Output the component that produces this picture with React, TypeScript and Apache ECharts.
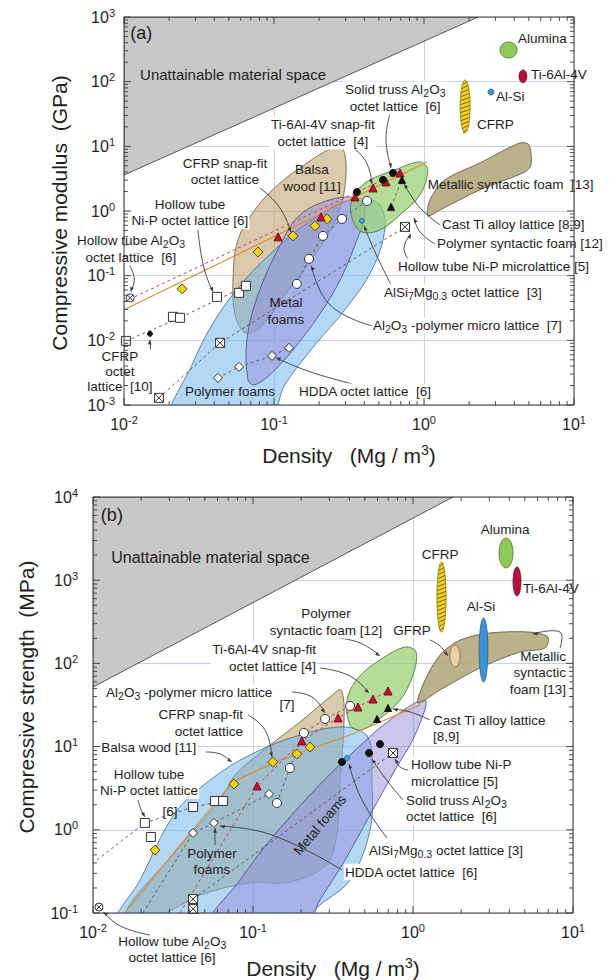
import React, { useEffect, useRef } from 'react';
import * as echarts from 'echarts';

const FONT = '"Liberation Sans", Arial, Helvetica, sans-serif';

// ---------- axis ranges ----------
const aXRange = [0.01, 10];
const aYRange = [0.001, 1000];
const bXRange = [0.01, 10];
const bYRange = [0.1, 10000];

// ---------- Panel (a): compressive modulus (GPa) ----------
const aUnattainable = [[0.01, 3.6], [2.3, 1000], [0.01, 1000]];
const aBalsa = [[0.284, 9.8], [0.302, 3.61], [0.267, 0.871], [0.188, 0.21], [0.118, 0.0505], [0.0807, 0.0156], [0.0641, 0.0131], [0.055, 0.0248], [0.0533, 0.0861], [0.0575, 0.357], [0.0771, 1.16], [0.11, 2.72], [0.166, 5.53], [0.236, 9.12]];
const aPolymerFoams = [[0.0209, 0.00059], [0.0284, 0.00418], [0.0404, 0.0207], [0.0641, 0.0861], [0.11, 0.299], [0.188, 0.782], [0.321, 1.49], [0.494, 1.33], [0.549, 0.548], [0.45, 0.123], [0.297, 0.0296], [0.188, 0.00853], [0.118, 0.00205], [0.0912, 0.00059]];
const aMetalFoams = [[0.0671, 0.00245], [0.066, 0.0102], [0.0782, 0.0505], [0.11, 0.299], [0.149, 0.871], [0.236, 1.49], [0.347, 1.59], [0.404, 1.04], [0.347, 0.299], [0.255, 0.0604], [0.161, 0.0122], [0.1016, 0.0035], [0.0747, 0.00205]];
const aPolymerSyntactic = [[0.331, 1.49], [0.404, 2.72], [0.641, 4.32], [0.94, 5.74], [1.06, 4.32], [0.94, 1.77], [0.692, 0.871], [0.509, 0.51], [0.386, 0.475], [0.331, 0.782]];
const aMetallicSyntactic = [[1.06, 0.84], [1.096, 1.49], [1.38, 3.03], [2.36, 5.53], [4.37, 11.3], [5.01, 10.5], [5.17, 5.17], [4.71, 4.02], [2.36, 2.12], [1.279, 1.04]];

// ellipses: [xmin, ymin, xmax, ymax]
const aBulkNames = ['Alumina', 'Ti-6Al-4V', 'Al-Si', 'CFRP'];
const aBulk = [[3.21, 232, 4.17, 411], [4.3, 96, 4.85, 152], [2.67, 62, 2.93, 77], [1.74, 16.1, 2.03, 106]];

const aCfrpSnap = [[0.0244, 0.0625], [0.0782, 0.233], [0.134, 0.412], [0.1876, 0.589], [0.2256, 0.755]];
const aTiSnap = [[0.1064, 0.398], [0.2057, 0.811], [0.3467, 1.65], [0.457, 2.27], [0.558, 2.82], [0.692, 3.88]];
const aSolidTruss = [[0.357, 1.97], [0.533, 3.03], [0.621, 3.88]];
const aCastTi = [[0.603, 1.16], [0.713, 3.03]];
const aAl2O3Polymer = [[0.142, 0.0746], [0.171, 0.182], [0.212, 0.412], [0.284, 0.755], [0.417, 1.43]];
const aNiPOctet = [[0.0103, 0.0098], [0.0212, 0.0231], [0.0236, 0.0223], [0.0417, 0.047], [0.0585, 0.0542], [0.065, 0.0695]];
const aNiPMicro = [[0.0171, 0.00129], [0.0437, 0.00914], [0.747, 0.568]];
const aAl2O3Octet = [[0.011, 0.0454]];
const aHdda = [[0.0423, 0.00263], [0.0585, 0.00389], [0.097, 0.00575], [0.126, 0.00766]];
const aCfrpOctet = [[0.0149, 0.0126]];
const aAlSiMg = [[0.386, 0.703]];

const aOrangeTrend = [[0.01, 0.0296], [1.047, 5.74]];
const aRedTrend = [[0.01, 0.0394], [0.692, 4.02]];

const aLabels = [
  { t: '(a)', x: 0.011, y: 566, al: 'left', fs: 18 },
  { t: 'Unattainable material space', x: 0.0128, y: 128, al: 'left', fs: 15 },
  { t: 'Alumina', x: 4.23, y: 473, al: 'left' },
  { t: 'Ti-6Al-4V', x: 5.17, y: 131, al: 'left' },
  { t: 'Al-Si', x: 3.02, y: 58, al: 'left' },
  { t: 'CFRP', x: 2.26, y: 21.4, al: 'left' },
  { t: 'Solid truss Al{s|2}O{s|3}\noctet lattice  [6]', x: 0.641, y: 56, al: 'center', bg: true },
  { t: 'Ti-6Al-4V snap-fit\noctet lattice  [4]', x: 0.212, y: 16.1, al: 'center', bg: true },
  { t: 'CFRP snap-fit\noctet lattice', x: 0.0471, y: 4.09, al: 'center', bg: true },
  { t: 'Balsa\nwood [11]', x: 0.179, y: 3.25, al: 'center' },
  { t: 'Hollow tube\nNi-P octet lattice [6]', x: 0.0275, y: 0.95, al: 'center', bg: true },
  { t: 'Hollow tube Al{s|2}O{s|3}\noctet lattice  [6]', x: 0.0111, y: 0.26, al: 'center', bg: true },
  { t: 'Metallic syntactic foam  [13]', x: 1.06, y: 2.53, al: 'left' },
  { t: 'Cast Ti alloy lattice [8,9]', x: 1.318, y: 0.61, al: 'left' },
  { t: 'Polymer syntactic foam [12]', x: 1.221, y: 0.31, al: 'left' },
  { t: 'Hollow tube Ni-P microlattice [5]', x: 0.661, y: 0.137, al: 'left', bg: true },
  { t: 'AlSi{s|7}Mg{s|0.3} octet lattice  [3]', x: 0.533, y: 0.0542, al: 'left', bg: true },
  { t: 'Al{s|2}O{s|3} -polymer micro lattice  [7]', x: 0.45, y: 0.0168, al: 'left', bg: true },
  { t: 'Metal\nfoams', x: 0.12, y: 0.0286, al: 'center' },
  { t: 'Polymer foams', x: 0.0509, y: 0.0016, al: 'center' },
  { t: 'HDDA octet lattice  [6]', x: 0.1445, y: 0.0016, al: 'left', bg: true },
  { t: 'CFRP\noctet\nlattice  [10]', x: 0.0094, y: 0.00326, al: 'center', lh: 15, bg: true },
];

const aLeaders = [
  [[0.0106, 0.16], [0.0117, 0.0925], [0.0111, 0.0562]],
  [[0.0311, 0.51], [0.0341, 0.132], [0.0392, 0.0562]],
  [[0.0724, 2.72], [0.106, 1.24], [0.13, 0.475]],
  [[0.297, 11.7], [0.404, 6.17], [0.45, 2.62]],
  [[0.593, 31.6], [0.558, 12.6], [0.603, 4.64]],
  [[1.279, 0.61], [0.94, 1.12], [0.736, 2.62]],
  [[1.184, 0.31], [0.94, 0.475], [0.858, 0.782]],
  [[0.807, 0.163], [0.736, 0.269], [0.819, 0.443]],
  [[0.612, 0.0671], [0.471, 0.233], [0.398, 0.589]],
  [[0.45, 0.0168], [0.236, 0.0354], [0.177, 0.142]],
  [[0.331, 0.00213], [0.174, 0.00326], [0.103, 0.00537]],
  [[0.0128, 0.00418], [0.0147, 0.00575], [0.0149, 0.0102]],
];

// ---------- Panel (b): compressive strength (MPa) ----------
const bUnattainable = [[0.01, 52], [1.78, 10000], [0.01, 10000]];
const bBalsa = [[0.0158, 0.0946], [0.0326, 0.541], [0.0622, 2.28], [0.0772, 4.56], [0.1106, 8.38], [0.197, 19.8], [0.303, 39.4], [0.355, 47.9], [0.371, 20.9], [0.35, 3.97], [0.33, 0.753], [0.282, 0.367], [0.17, 0.236], [0.0958, 0.23], [0.0467, 0.164], [0.0262, 0.0946]];
const bPolymerFoams = [[0.0143, 0.0718], [0.0197, 0.249], [0.0326, 1.59], [0.0539, 3.97], [0.0958, 7.93], [0.197, 13.8], [0.376, 17.2], [0.523, 13.0], [0.554, 3.97], [0.539, 0.994], [0.404, 0.249], [0.262, 0.125], [0.183, 0.0718]];
const bMetalFoams = [[1.19, 36.3], [1.03, 13.8], [0.772, 5.24], [0.539, 1.51], [0.376, 0.434], [0.262, 0.143], [0.211, 0.0718], [0.0539, 0.0718], [0.083, 0.249], [0.128, 0.753], [0.227, 2.62], [0.404, 7.93], [0.718, 20.9]];
const bPolymerSyntactic = [[0.404, 18.2], [0.387, 36.3], [0.453, 66.8], [0.622, 110], [0.891, 157], [1.045, 137], [1.0, 72.6], [0.83, 36.3], [0.604, 20.9], [0.467, 15.8]];
const bMetallicSyntactic = [[1.075, 33.4], [1.19, 63.1], [1.475, 126], [1.97, 191], [3.03, 232], [5.38, 238], [6.98, 207], [6.68, 153], [4.66, 137], [2.62, 88.1], [1.475, 47.9]];

const bBulkNames = ['Alumina', 'Ti-6Al-4V', 'CFRP', 'GFRP', 'Al-Si'];
const bBulk = [[3.45, 1403, 4.22, 3213], [4.22, 646, 4.73, 1442], [1.41, 238, 1.61, 1655], [1.7, 90.6, 1.97, 166], [2.59, 59.7, 2.94, 352]];

const bCfrpSnap = [[0.0244, 0.571], [0.076, 3.55], [0.133, 6.53], [0.188, 8.15], [0.227, 9.88]];
const bTiSnap = [[0.106, 3.36], [0.202, 11.7], [0.34, 22.1], [0.453, 29.9], [0.562, 37.3], [0.698, 46.6]];
const bSolidTruss = [[0.36, 6.53], [0.531, 8.38], [0.622, 10.7]];
const bCastTi = [[0.596, 21.5], [0.698, 29.1]];
const bAl2O3Polymer = [[0.141, 2.1], [0.17, 5.53], [0.208, 14.6], [0.282, 21.5], [0.404, 30.8]];
const bNiPOctet = [[0.0211, 1.21], [0.023, 0.82], [0.0422, 1.88], [0.0579, 2.22], [0.065, 2.22]];
const bNiPMicro = [[0.0422, 0.147], [0.0422, 0.112], [0.75, 8.38]];
const bAl2O3Octet = [[0.0109, 0.118]];
const bHdda = [[0.0422, 0.916], [0.057, 1.21], [0.126, 2.69]];
const bAlSiMg = [[0.387, 7.3]];

const bOrangeTrend = [[0.0158, 0.1], [0.035, 0.656], [0.075, 3.76], [0.1475, 6.9], [0.404, 13.8], [1.106, 31.6]];
const bRedTrendStart = [[0.035, 0.1]];
const bSquaresTrendStart = [[0.0106, 0.434]];
const bHddaTrendStart = [[0.0205, 0.1]];

const bLabels = [
  { t: '(b)', x: 0.0112, y: 6080, al: 'left', fs: 18 },
  { t: 'Unattainable material space', x: 0.013, y: 1849, al: 'left', fs: 16 },
  { t: 'Alumina', x: 3.76, y: 4121, al: 'center' },
  { t: 'Ti-6Al-4V', x: 4.87, y: 805, al: 'left' },
  { t: 'CFRP', x: 1.475, y: 2010, al: 'center' },
  { t: 'Al-Si', x: 2.66, y: 477, al: 'center' },
  { t: 'GFRP', x: 0.986, y: 252, al: 'center', bg: true },
  { t: 'Polymer\nsyntactic foam [12]', x: 0.286, y: 315, al: 'center', bg: true },
  { t: 'Ti-6Al-4V snap-fit\noctet lattice [4]', x: 0.251, y: 116, al: 'right', bg: true },
  { t: 'Al{s|2}O{s|3} -polymer micro lattice', x: 0.0119, y: 45.3, al: 'left', bg: true },
  { t: '[7]', x: 0.163, y: 32.5, al: 'center' },
  { t: 'CFRP snap-fit\noctet lattice', x: 0.0879, y: 19.2, al: 'right', bg: true },
  { t: 'Balsa wood [11]', x: 0.0111, y: 9.62, al: 'left', bg: true },
  { t: 'Hollow tube\nNi-P octet lattice', x: 0.0224, y: 3.71, al: 'center', bg: true },
  { t: '[6]', x: 0.0303, y: 1.64, al: 'center' },
  { t: 'Metallic\nsyntactic\nfoam [13]', x: 9.04, y: 76.7, al: 'right' },
  { t: 'Cast Ti alloy lattice\n[8,9]', x: 1.315, y: 16.5, al: 'left', bg: true },
  { t: 'Hollow tube Ni-P\nmicrolattice [5]', x: 0.958, y: 4.82, al: 'left', bg: true },
  { t: 'Solid truss Al{s|2}O{s|3}\noctet lattice  [6]', x: 0.891, y: 1.8, al: 'left', bg: true },
  { t: 'AlSi{s|7}Mg{s|0.3} octet lattice [3]', x: 0.523, y: 0.571, al: 'left', bg: true },
  { t: 'HDDA octet lattice  [6]', x: 0.371, y: 0.311, al: 'left', bg: true },
  { t: 'Metal foams', x: 0.262, y: 1.14, al: 'center', rot: 50 },
  { t: 'Polymer\nfoams', x: 0.0554, y: 0.416, al: 'center' },
  { t: 'Hollow tube Al{s|2}O{s|3}\noctet lattice [6]', x: 0.0312, y: 0.0364, al: 'center' },
];

const bLeaders = [
  [[0.316, 207], [0.467, 176], [0.622, 123]],
  [[1.276, 191], [1.475, 162], [1.655, 123]],
  [[0.262, 88.1], [0.404, 70.6], [0.531, 44]],
  [[0.175, 45.3], [0.234, 39.4], [0.282, 25.4]],
  [[0.093, 24], [0.119, 15.8], [0.1315, 7.5]],
  [[0.0508, 8.61], [0.0622, 8.15], [0.0739, 6.53]],
  [[0.0191, 2.28], [0.02, 1.73], [0.0211, 1.43]],
  [[8.3, 153], [8.3, 238], [5.62, 226]],
  [[1.276, 20.9], [0.958, 26.1], [0.75, 28.3]],
  [[0.931, 5.24], [0.83, 5.69], [0.772, 7.1]],
  [[0.866, 2.28], [0.668, 4.2], [0.554, 7.1]],
  [[0.688, 0.797], [0.48, 2.28], [0.398, 6.18]],
  [[0.36, 0.329], [0.1315, 0.866], [0.0622, 1.11]],
  [[0.0227, 0.0544], [0.0148, 0.0698], [0.0116, 0.103]],
  [[0.0579, 0.656], [0.0579, 1.05]],
];

// ---------- styles ----------
const regionStyles = {
  unatt: { fill: '#c8c8c8', stroke: '#333', smooth: 0 },
  balsa: { fill: 'rgba(196,168,118,0.62)', stroke: '#6b5a3a', smooth: 0.35 },
  polyFoam: { fill: 'rgba(110,180,238,0.52)', stroke: '#3e6a8f', smooth: 0.35 },
  metalFoam: { fill: 'rgba(150,140,215,0.5)', stroke: '#4a4780', smooth: 0.35 },
  polySyn: { fill: 'rgba(150,205,110,0.7)', stroke: '#4b6b3a', smooth: 0.35 },
  metalSyn: { fill: 'rgba(178,166,122,0.88)', stroke: '#5a5138', smooth: 0.3 },
};
const bulkColors = {
  Alumina: { fill: '#8fc95a', stroke: '#4d6d30', hatch: false },
  'Ti-6Al-4V': { fill: '#b3123c', stroke: '#6d0b25', hatch: false },
  'Al-Si': { fill: '#3f93d3', stroke: '#2a5f8a', hatch: false },
  CFRP: { fill: '#f4d21f', stroke: '#8a7a10', hatch: true },
  GFRP: { fill: '#ead1a4', stroke: '#7a6540', hatch: false },
};

const BOXX = 'path://M1,1H19V19H1Z M1,1L19,19 M19,1L1,19';
const CIRX = 'path://M20,10A10,10,0,1,1,0,10A10,10,0,1,1,20,10Z M3,3L17,17 M17,3L3,17';

function regionSeries(idx: number, regions: any[]) {
  return {
    type: 'custom', xAxisIndex: idx, yAxisIndex: idx, clip: true, silent: true, z: 2,
    data: regions.map((r) => [r.pts[0][0], r.pts[0][1]]),
    renderItem: (params: any, api: any) => {
      const r = regions[params.dataIndex];
      const points = r.pts.map((p: number[]) => api.coord(p));
      return { type: 'polygon', shape: { points, smooth: r.style.smooth }, style: { fill: r.style.fill, stroke: r.style.stroke, lineWidth: 0.8 } };
    },
  };
}

function bulkSeries(idx: number, names: string[], boxes: number[][]) {
  return {
    type: 'custom', xAxisIndex: idx, yAxisIndex: idx, clip: false, silent: true, z: 4,
    data: boxes,
    encode: { x: [0, 2], y: [1, 3] },
    renderItem: (params: any, api: any) => {
      const b = boxes[params.dataIndex];
      const st = (bulkColors as any)[names[params.dataIndex]];
      const p1 = api.coord([b[0], b[3]]);
      const p2 = api.coord([b[2], b[1]]);
      const cx = (p1[0] + p2[0]) / 2, cy = (p1[1] + p2[1]) / 2;
      const rx = Math.abs(p2[0] - p1[0]) / 2, ry = Math.abs(p2[1] - p1[1]) / 2;
      const children: any[] = [{ type: 'ellipse', shape: { cx, cy, rx, ry }, style: { fill: st.fill, stroke: st.stroke, lineWidth: 0.8 } }];
      if (st.hatch) {
        for (let yy = cy - ry + 3; yy < cy + ry - 1; yy += 4) {
          const d = (yy - cy) / ry;
          const w = rx * Math.sqrt(Math.max(0, 1 - d * d)) * 0.95;
          if (w < 0.8) continue;
          children.push({ type: 'line', shape: { x1: cx - w, y1: yy + 1.6, x2: cx + w, y2: yy - 1.6 }, style: { stroke: '#3a3320', lineWidth: 0.7 } });
        }
      }
      return { type: 'group', children };
    },
  };
}

function scatter(idx: number, data: number[][], symbol: string, size: number, color: string, border: string, z = 10) {
  return {
    type: 'scatter', xAxisIndex: idx, yAxisIndex: idx, data, symbol, symbolSize: size, silent: true, z,
    clip: false,
    itemStyle: { color, borderColor: border, borderWidth: 1, opacity: 1 },
  };
}

function line(idx: number, data: number[][], color: string, type: any, width = 1, z = 6) {
  return {
    type: 'line', xAxisIndex: idx, yAxisIndex: idx, data, symbol: 'none', silent: true, z, clip: true,
    lineStyle: { color, width, type },
  };
}

function leaderSeries(idx: number, leaders: number[][][]) {
  return {
    type: 'custom', xAxisIndex: idx, yAxisIndex: idx, clip: false, silent: true, z: 12,
    data: leaders.map((l) => l[0]),
    renderItem: (params: any, api: any) => {
      const pts = leaders[params.dataIndex].map((p) => api.coord(p));
      const n = pts.length;
      const [x1, y1] = pts[n - 2];
      const [x2, y2] = pts[n - 1];
      const ang = Math.atan2(y2 - y1, x2 - x1);
      const s = 5;
      const a1 = [x2 - s * Math.cos(ang - 0.38), y2 - s * Math.sin(ang - 0.38)];
      const a2 = [x2 - s * Math.cos(ang + 0.38), y2 - s * Math.sin(ang + 0.38)];
      return {
        type: 'group',
        children: [
          { type: 'polyline', shape: { points: pts, smooth: 0.45 }, style: { stroke: '#3a3a3a', lineWidth: 0.9, fill: 'none' } },
          { type: 'polygon', shape: { points: [[x2, y2], a1, a2] }, style: { fill: '#3a3a3a' } },
        ],
      };
    },
  };
}

function labelSeries(idx: number, labels: any[]) {
  return {
    type: 'custom', xAxisIndex: idx, yAxisIndex: idx, clip: false, silent: true, z: 15,
    data: labels.map((l) => [l.x, l.y]),
    renderItem: (params: any, api: any) => {
      const l = labels[params.dataIndex];
      const [px, py] = api.coord([l.x, l.y]);
      const fs = l.fs || 13.5;
      const style: any = {
        text: l.t, fontSize: fs, fontFamily: FONT, fill: '#1e1e1e',
        align: l.al, verticalAlign: 'middle', lineHeight: l.lh || 16.5,
        rich: { s: { fontSize: fs * 0.78, lineHeight: 10, padding: [7, 0, 0, 0], fontFamily: FONT, fill: '#1e1e1e' } },
      };
      if (l.bg) { style.backgroundColor = '#ffffff'; style.padding = [0, 1, 0, 1]; }
      return { type: 'text', x: px, y: py, rotation: ((l.rot || 0) * Math.PI) / 180, style };
    },
  };
}

function frameSeries(idx: number, xr: number[], yr: number[]) {
  return {
    type: 'custom', xAxisIndex: idx, yAxisIndex: idx, clip: false, silent: true, z: 20,
    data: [[xr[0], yr[0]]],
    renderItem: (params: any, api: any) => {
      const cs = params.coordSys;
      const L = cs.x, R = cs.x + cs.width, T = cs.y, B = cs.y + cs.height;
      const st = { stroke: '#3a3a3a', lineWidth: 0.9 };
      const children: any[] = [{ type: 'rect', shape: { x: L, y: T, width: cs.width, height: cs.height }, style: { fill: 'none', stroke: '#3a3a3a', lineWidth: 1 } }];
      const ex0 = Math.round(Math.log10(xr[0])), ex1 = Math.round(Math.log10(xr[1]));
      for (let e = ex0; e <= ex1; e++) {
        for (let m = 1; m < 10; m++) {
          if (e === ex1 && m > 1) break;
          const px = api.coord([m * Math.pow(10, e), yr[0]])[0];
          const len = m === 1 ? 7 : 4;
          children.push({ type: 'line', shape: { x1: px, y1: B, x2: px, y2: B - len }, style: st });
          children.push({ type: 'line', shape: { x1: px, y1: T, x2: px, y2: T + len }, style: st });
        }
      }
      const ey0 = Math.round(Math.log10(yr[0])), ey1 = Math.round(Math.log10(yr[1]));
      for (let e = ey0; e <= ey1; e++) {
        for (let m = 1; m < 10; m++) {
          if (e === ey1 && m > 1) break;
          const py = api.coord([xr[0], m * Math.pow(10, e)])[1];
          const len = m === 1 ? 7 : 4;
          children.push({ type: 'line', shape: { x1: L, y1: py, x2: L + len, y2: py }, style: st });
          children.push({ type: 'line', shape: { x1: R, y1: py, x2: R - len, y2: py }, style: st });
        }
      }
      return { type: 'group', children };
    },
  };
}

const tickFormatter = (v: number) => `10{sup|${Math.round(Math.log10(v))}}`;
const axisLabelBase = (margin: number) => ({
  formatter: tickFormatter, fontSize: 16, fontFamily: FONT, color: '#1e1e1e', margin,
  rich: { sup: { fontSize: 11, padding: [0, 0, 9, 0], fontFamily: FONT, color: '#1e1e1e' } },
});
const splitLine = { show: true, lineStyle: { color: '#c5d3ea', width: 1 } };

function makeAxis(grid: number, range: number[], splitNumber: number, margin: number) {
  return {
    type: 'log', logBase: 10, gridIndex: grid, min: range[0], max: range[1], splitNumber,
    axisLine: { show: false }, axisTick: { show: false }, splitLine, axisLabel: axisLabelBase(margin),
  };
}

function panelSeries(idx: number, p: any) {
  const dash = [3, 3];
  return [
    regionSeries(idx, p.regions),
    line(idx, p.orange, '#e08a2e', 'solid', 1.1, 7),
    line(idx, p.red, '#cf3a4a', dash, 1, 7),
    ...p.dashes.map((d: number[][]) => line(idx, d, '#555', dash, 0.9, 6)),
    bulkSeries(idx, p.bulkNames, p.bulk),
    leaderSeries(idx, p.leaders),
    scatter(idx, p.hdda, 'diamond', 9, '#ffffff', '#333'),
    scatter(idx, p.niPOctet, 'rect', 9, '#ffffff', '#333'),
    scatter(idx, p.niPMicro, BOXX, 9, '#ffffff', '#333'),
    scatter(idx, p.al2o3Octet, CIRX, 8, '#ffffff', '#333'),
    scatter(idx, p.al2o3Polymer, 'circle', 9, '#ffffff', '#333'),
    scatter(idx, p.cfrpSnap, 'diamond', 10, '#f2d21c', '#5a4a10'),
    scatter(idx, p.tiSnap, 'triangle', 8, '#c8102e', '#7a0a1c'),
    scatter(idx, p.solidTruss, 'circle', 7, '#111', '#111'),
    scatter(idx, p.castTi, 'triangle', 7, '#111', '#111'),
    scatter(idx, p.alSiMg, 'circle', 5, '#4aa3e0', '#2a6a9a'),
    ...(p.cfrpOctet ? [scatter(idx, p.cfrpOctet, 'circle', 5, '#111', '#111')] : []),
    labelSeries(idx, p.labels),
    frameSeries(idx, p.xr, p.yr),
  ];
}

export default function App() {
  const ref = useRef<HTMLDivElement>(null);
  useEffect(() => {
    if (!ref.current) return;
    const chart = echarts.init(ref.current, undefined, { renderer: 'svg' });

    const panelA = {
      xr: aXRange, yr: aYRange,
      regions: [
        { pts: aUnattainable, style: regionStyles.unatt },
        { pts: aBalsa, style: regionStyles.balsa },
        { pts: aPolymerFoams, style: regionStyles.polyFoam },
        { pts: aMetalFoams, style: regionStyles.metalFoam },
        { pts: aPolymerSyntactic, style: regionStyles.polySyn },
        { pts: aMetallicSyntactic, style: regionStyles.metalSyn },
      ],
      orange: aOrangeTrend, red: aRedTrend,
      dashes: [
        [aNiPOctet[0], aNiPOctet[2], aNiPOctet[5]],
        aNiPMicro,
        aHdda,
        aAl2O3Polymer,
        aCastTi,
      ],
      bulkNames: aBulkNames, bulk: aBulk, leaders: aLeaders,
      hdda: aHdda, niPOctet: aNiPOctet, niPMicro: aNiPMicro, al2o3Octet: aAl2O3Octet,
      al2o3Polymer: aAl2O3Polymer, cfrpSnap: aCfrpSnap, tiSnap: aTiSnap, solidTruss: aSolidTruss,
      castTi: aCastTi, alSiMg: aAlSiMg, cfrpOctet: aCfrpOctet, labels: aLabels,
    };
    const panelB = {
      xr: bXRange, yr: bYRange,
      regions: [
        { pts: bUnattainable, style: regionStyles.unatt },
        { pts: bBalsa, style: regionStyles.balsa },
        { pts: bPolymerFoams, style: regionStyles.polyFoam },
        { pts: bMetalFoams, style: regionStyles.metalFoam },
        { pts: bPolymerSyntactic, style: regionStyles.polySyn },
        { pts: bMetallicSyntactic, style: regionStyles.metalSyn },
      ],
      orange: bOrangeTrend, red: [...bRedTrendStart, ...bTiSnap],
      dashes: [
        [...bSquaresTrendStart, bNiPOctet[0], bNiPOctet[2], bNiPOctet[4]],
        [bNiPMicro[0], bNiPMicro[2]],
        [...bHddaTrendStart, ...bHdda],
        bAl2O3Polymer,
        bCastTi,
      ],
      bulkNames: bBulkNames, bulk: bBulk, leaders: bLeaders,
      hdda: bHdda, niPOctet: bNiPOctet, niPMicro: bNiPMicro, al2o3Octet: bAl2O3Octet,
      al2o3Polymer: bAl2O3Polymer, cfrpSnap: bCfrpSnap, tiSnap: bTiSnap, solidTruss: bSolidTruss,
      castTi: bCastTi, alSiMg: bAlSiMg, cfrpOctet: null, labels: bLabels,
    };

    const titleStyle = { fontSize: 21, fontFamily: FONT, fill: '#1e1e1e', align: 'center', verticalAlign: 'middle' };
    const supRich = { sup: { fontSize: 14, padding: [0, 0, 10, 0], fontFamily: FONT, fill: '#1e1e1e' } };

    chart.setOption({
      animation: false,
      backgroundColor: '#ffffff',
      textStyle: { fontFamily: FONT },
      grid: [
        { left: 124, top: 17, width: 450, height: 388, show: false },
        { left: 93, top: 497, width: 480, height: 416, show: false },
      ],
      xAxis: [makeAxis(0, aXRange, 3, 9), makeAxis(1, bXRange, 3, 9)],
      yAxis: [makeAxis(0, aYRange, 6, 9), makeAxis(1, bYRange, 5, 15)],
      graphic: [
        { type: 'text', x: 59, y: 213, rotation: Math.PI / 2, style: { ...titleStyle, text: 'Compressive modulus  (GPa)' } },
        { type: 'text', x: 349, y: 455, style: { ...titleStyle, text: 'Density   (Mg / m{sup|3})', rich: supRich } },
        { type: 'text', x: 26, y: 697, rotation: Math.PI / 2, style: { ...titleStyle, text: 'Compressive strength  (MPa)' } },
        { type: 'text', x: 333, y: 968, style: { ...titleStyle, text: 'Density   (Mg / m{sup|3})', rich: supRich } },
      ],
      series: [...panelSeries(0, panelA), ...panelSeries(1, panelB)],
    });
    return () => chart.dispose();
  }, []);
  return <div ref={ref} style={{ position: 'absolute', left: 0, top: 0, width: 609, height: 980 }} />;
}
